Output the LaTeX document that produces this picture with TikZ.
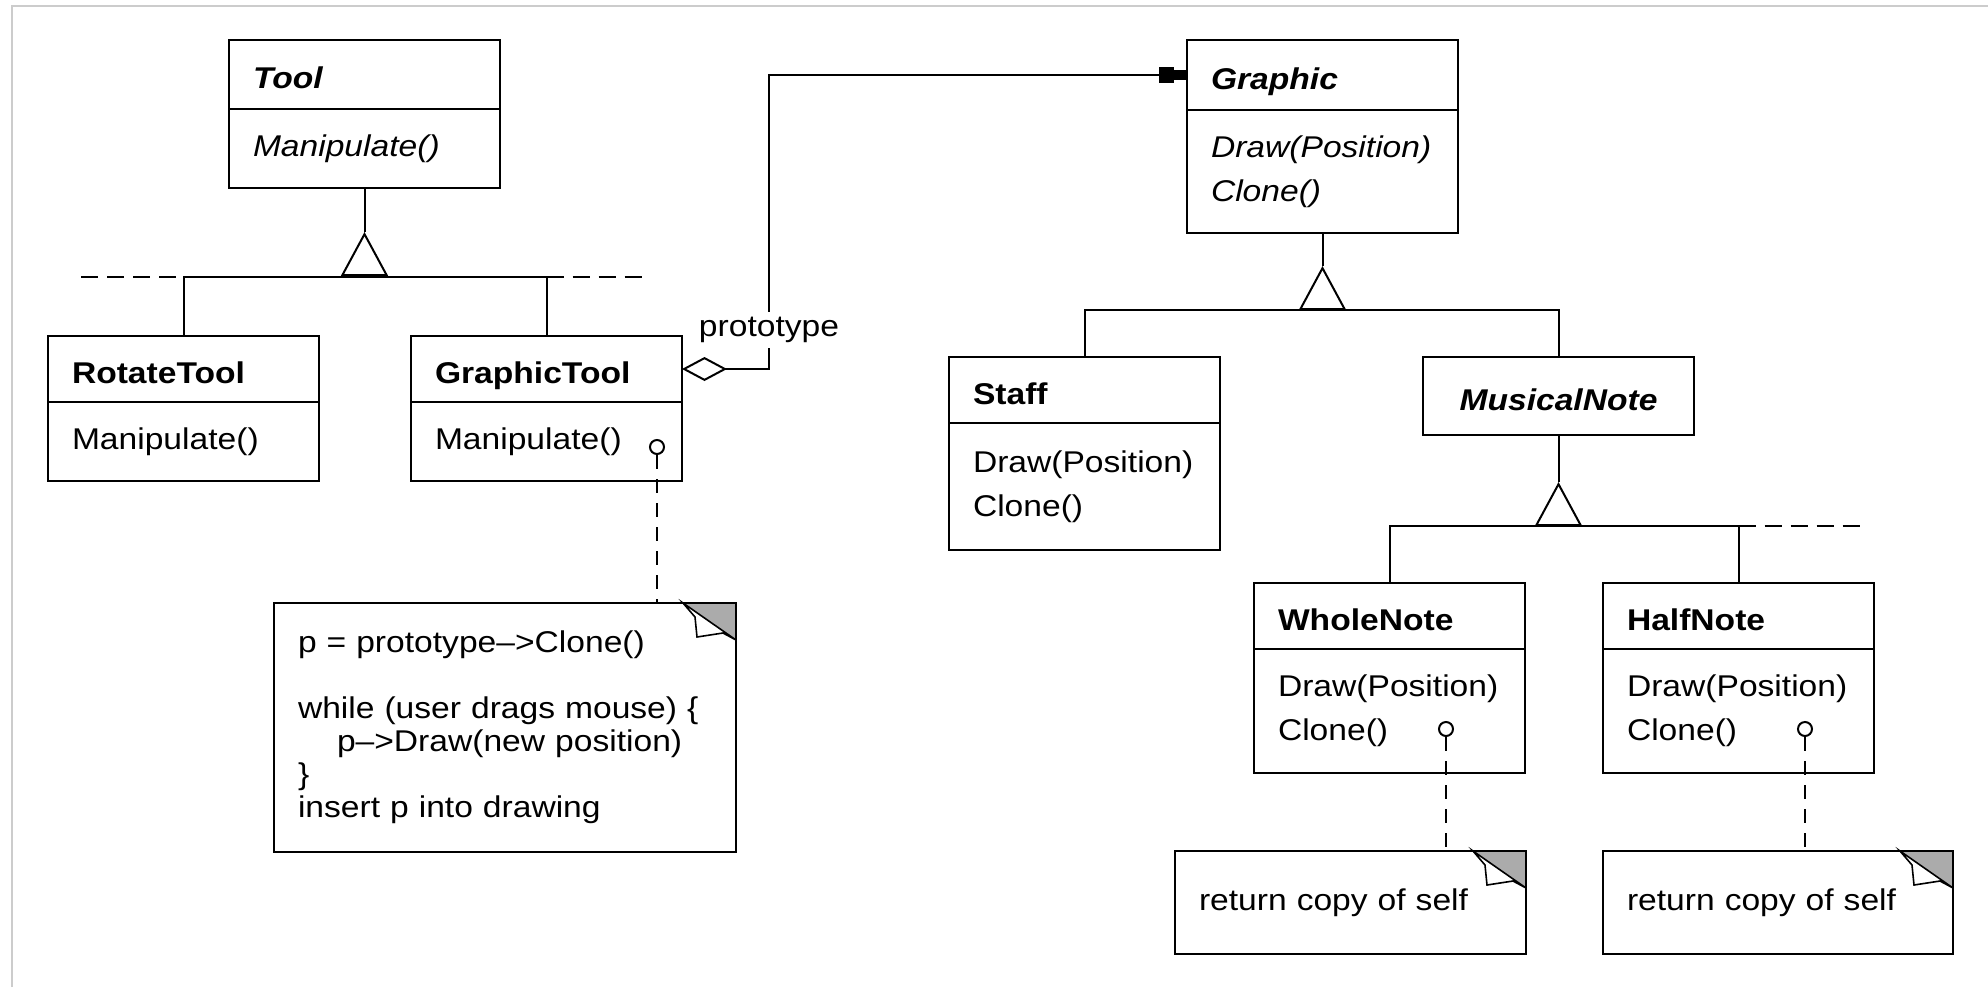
\documentclass[tikz,border=0pt]{standalone}
\usepackage{fontspec}
\setmainfont{Liberation Sans}[FakeStretch=1.12]
\usepackage{tikz}
\usetikzlibrary{arrows.meta,positioning}

\tikzset{
  cls/.style={draw, line width=1.4pt, outer sep=0pt, inner xsep=12pt, minimum width=135.5pt,
    text width=111.5pt, align=left, minimum height=#1},
  clstitle/.style={text height=14pt, text depth=0pt},
  memo/.style={draw, line width=1.4pt, outer sep=0pt, inner xsep=12pt, align=left, anchor=north west,
    font=\fontsize{15}{16.5}\selectfont},
  conn/.style={line width=1pt},
  ext/.style={line width=1pt, dash pattern=on 8.5pt off 4.5pt},
  notelink/.style={line width=1pt, dash pattern=on 7pt off 5pt},
  inherit/.style={line width=1pt, -{Triangle[open, length=22pt, width=23.5pt]}},
  lolli/.style={circle, draw, line width=1pt, minimum size=7pt, inner sep=0pt, fill=white},
  frame/.style={gray!40, line width=0.75pt}
}

\begin{document}
\begin{tikzpicture}[x=0.5pt, y=-0.5pt, every node/.style={font=\fontsize{15}{22}\selectfont}]

\useasboundingbox (0,0) rectangle (1988,987);
\draw[frame] (12,987) -- (12,6) -- (1988,6);

% Tool hierarchy
\node[cls=34.5pt, clstitle, anchor=north west] (tool) at (229,40) {\textbf{\textit{Tool}}};
\node[cls=39.5pt, below=0pt of tool] (toolops) {\textit{Manipulate()}};

\node[cls=33pt, clstitle, anchor=north west] (rotate) at (48,336) {\textbf{RotateTool}};
\node[cls=39.5pt, below=0pt of rotate] (rotateops) {Manipulate()};

\node[cls=33pt, clstitle, anchor=north west] (gtool) at (411,336) {\textbf{GraphicTool}};
\node[cls=39.5pt, below=0pt of gtool] (gtoolops) {Manipulate()};

\coordinate[below=22pt of toolops] (toolapex);
\coordinate[below=22.5pt of toolapex] (toolbar);
\coordinate (toolleft) at (81,277);
\coordinate (toolright) at (647,277);
\draw[conn] (toolops.south) -- (toolapex);
\draw[inherit] (toolbar) -- (toolapex);
\draw[conn] (rotate.north) |- (toolbar) -| (gtool.north);
\draw[ext] (toolleft) -- (rotate.north |- toolbar);
\draw[ext] (gtool.north |- toolbar) -- (toolright);

% Graphic hierarchy
\node[cls=35pt, clstitle, anchor=north west] (graphic) at (1187,40) {\textbf{\textit{Graphic}}};
\node[cls=61.5pt, below=0pt of graphic] (graphicops) {\textit{Draw(Position)}\\\textit{Clone()}};

\node[cls=33pt, clstitle, anchor=north west] (staff) at (949,357) {\textbf{Staff}};
\node[cls=63.5pt, below=0pt of staff] (staffops) {Draw(Position)\\Clone()};

\node[cls=39pt, clstitle, anchor=north west, align=center] (musical) at (1423,357) {\textbf{\textit{MusicalNote}}};

\node[cls=33pt, clstitle, anchor=north west] (whole) at (1254,583) {\textbf{WholeNote}};
\node[cls=62pt, below=0pt of whole] (wholeops) {Draw(Position)\\Clone()};

\node[cls=33pt, clstitle, anchor=north west] (half) at (1603,583) {\textbf{HalfNote}};
\node[cls=62pt, below=0pt of half] (halfops) {Draw(Position)\\Clone()};

\coordinate[below=16.5pt of graphicops] (graphicapex);
\coordinate[below=22pt of graphicapex] (graphicbar);
\draw[conn] (graphicops.south) -- (graphicapex);
\draw[inherit] (graphicbar) -- (graphicapex);
\draw[conn] (staff.north) |- (graphicbar) -| (musical.north);

\coordinate[below=23.5pt of musical] (musicalapex);
\coordinate[below=22pt of musicalapex] (musicalbar);
\coordinate (musicaldots) at (1863,526);
\draw[conn] (musical.south) -- (musicalapex);
\draw[inherit] (musicalbar) -- (musicalapex);
\draw[conn] (whole.north) |- (musicalbar) -| (half.north);
\draw[ext] (half.north |- musicalbar) -- (musicaldots);

% Prototype reference
\coordinate (protobend) at (769,220);
\draw[conn, {Diamond[open, length=22.5pt, width=12pt]}-{Rectangle[length=7.5pt, width=8pt, sep=0pt] Rectangle[length=6.5pt, width=5pt, sep=0pt]}]
  (gtool.east) -| (protobend) |- (graphic.west);
\node[fill=white, inner sep=2.5pt] (protolabel) at (769,330) {prototype};

% Implementation notes
\node[memo, minimum width=231pt, minimum height=124.5pt, text width=207pt] (note1) at (274,603)
  {p = prototype-->Clone()\\[16.5pt]
   while (user drags mouse) \{\\
   \hspace*{19.5pt}p-->Draw(new position)\\
   \}\\
   insert p into drawing};
\node[memo, minimum width=175.5pt, minimum height=51.5pt, text width=151.5pt] (note2) at (1175,851)
  {return copy of self};
\node[memo, minimum width=175pt, minimum height=51.5pt, text width=151pt] (note3) at (1603,851)
  {return copy of self};

\foreach \n in {note1,note2,note3}{%
  \fill[gray!66] (\n.north east) ++(-53,0) -- (\n.north east) -- ++(0,37) -- cycle;
  \draw[line width=1.4pt] (\n.north east) ++(-53,0) -- (\n.north east) -- ++(0,37);
  \filldraw[fill=white, line width=0.8pt] (\n.north east) ++(-53,0) -- ++(12,14) -- ++(2,20) -- ++(26,-4) -- ++(13,7) -- cycle;
}

\node[lolli] (gtoolpin) at (657,447) {};
\node[lolli] (wholepin) at (1446,729) {};
\node[lolli] (halfpin) at (1805,729) {};
\draw[notelink] (gtoolpin) -- (gtoolpin |- note1.north);
\draw[notelink] (wholepin) -- (wholepin |- note2.north);
\draw[notelink] (halfpin) -- (halfpin |- note3.north);

\end{tikzpicture}
\end{document}
